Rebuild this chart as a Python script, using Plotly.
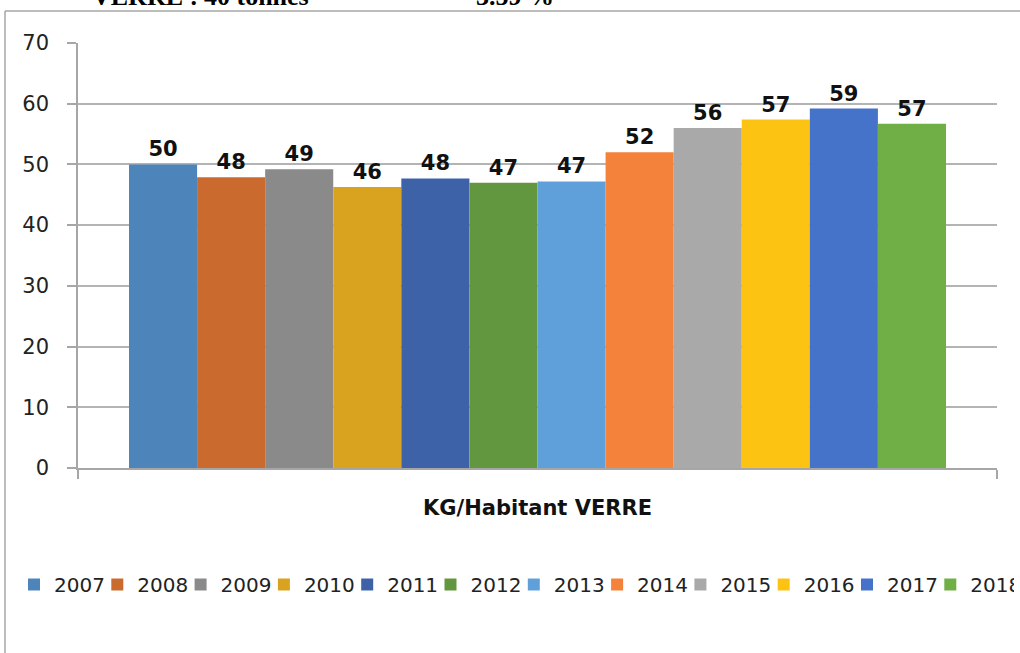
import plotly.graph_objects as go

category = ["KG/Habitant VERRE"]
years = ["2007", "2008", "2009", "2010", "2011", "2012",
         "2013", "2014", "2015", "2016", "2017", "2018"]
values = [50.0, 47.9, 49.2, 46.3, 47.7, 47.0,
          47.2, 52.0, 56.0, 57.4, 59.2, 56.7]
colors = ["#4d84ba", "#cb6a2e", "#8a8a8a", "#daa31f", "#3e62a8", "#62973f",
          "#60a0da", "#f4823a", "#a9a9a9", "#fdc312", "#4473c9", "#70af45"]
y_ticks = [0, 10, 20, 30, 40, 50, 60, 70]

W, H = 1020, 653
ML, MR, MT, MB = 78, 23, 43, 185
PW, PH = W - ML - MR, H - MT - MB


def px_x(p):
    return (p - ML) / PW


def px_y(p):
    return (H - MB - p) / PH


fig = go.Figure()
for yr, v, c in zip(years, values, colors):
    fig.add_trace(go.Bar(
        name=yr, x=category, y=[v],
        marker=dict(color=c, line=dict(width=0)),
        texttemplate="%{y:.0f}", textposition="outside",
        textfont=dict(family="DejaVu Sans", size=21, color="#111111", weight="bold"),
        cliponaxis=False,
    ))

fig.update_layout(
    width=W, height=H,
    margin=dict(l=ML, r=MR, t=MT, b=MB),
    paper_bgcolor="white", plot_bgcolor="white",
    barmode="group", bargap=0.111, bargroupgap=0,
    font=dict(family="DejaVu Sans", color="#222222"),
    showlegend=True,
    legend=dict(
        orientation="h", x=px_x(14), xanchor="left", y=px_y(565), yanchor="top",
        font=dict(family="DejaVu Sans", size=20, color="#222222"),
        entrywidth=38.3, entrywidthmode="pixels",
        bgcolor="rgba(0,0,0,0)", traceorder="normal",
    ),
    xaxis=dict(
        type="category", showgrid=False, showline=True, linecolor="#a6a6a6",
        linewidth=1.5, ticks="outside", tickson="boundaries", ticklen=9,
        tickcolor="#a6a6a6", tickwidth=1.5,
        tickfont=dict(family="DejaVu Sans", size=21, color="#111111", weight="bold"),
        ticklabelstandoff=20, fixedrange=True,
    ),
    yaxis=dict(
        range=[0, 70], tickvals=y_ticks, showgrid=True, gridcolor="#b4b4b4",
        gridwidth=1.5, showline=True, linecolor="#a6a6a6", linewidth=1.5,
        ticks="outside", ticklen=9, tickcolor="#a6a6a6", tickwidth=1.5,
        tickfont=dict(family="DejaVu Sans", size=21, color="#222222"),
        ticklabelstandoff=14, zeroline=False, fixedrange=True,
    ),
)

# outer frame of the embedded chart (left and top edges visible)
fig.add_shape(type="line", xref="paper", yref="paper",
              x0=px_x(5), x1=px_x(W + 10), y0=px_y(11), y1=px_y(11),
              line=dict(color="#a6a6a6", width=1.5))
fig.add_shape(type="line", xref="paper", yref="paper",
              x0=px_x(5), x1=px_x(5), y0=px_y(11), y1=px_y(H + 10),
              line=dict(color="#a6a6a6", width=1.5))

# cropped heading text above the chart
heading = [("VERRE :", 145), ("40 tonnes", 256), ("3.59 %", 515)]
for txt, cx in heading:
    fig.add_annotation(text=txt, xref="paper", yref="paper",
                       x=px_x(cx), y=px_y(13), xanchor="center", yanchor="bottom",
                       showarrow=False,
                       font=dict(family="Liberation Serif", size=26,
                                 color="#000000", weight="bold"))

fig.write_html("out.html",
               config={"displayModeBar": False},
               post_script="document.body.style.margin='0';document.body.style.overflow='hidden';")
